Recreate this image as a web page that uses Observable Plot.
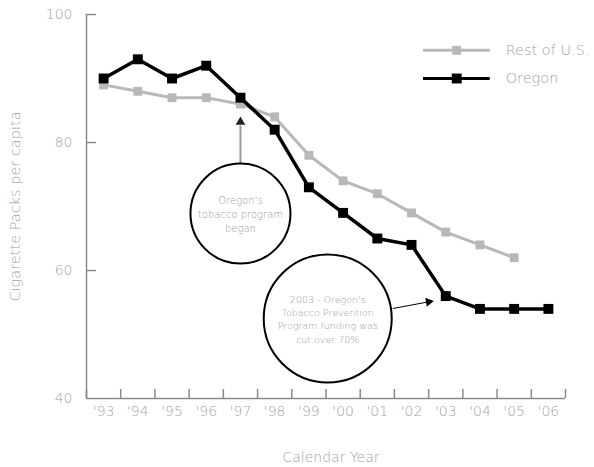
<!DOCTYPE html>
<html><head><meta charset="utf-8">
<script src="https://cdn.jsdelivr.net/npm/d3@7"></script>
<script src="https://cdn.jsdelivr.net/npm/@observablehq/plot@0.6"></script>
<style>body{margin:0;background:#fff}</style>
</head><body><div id="chart"></div>
<script>
const years = [1993,1994,1995,1996,1997,1998,1999,2000,2001,2002,2003,2004,2005,2006];
const yearLabels = ["'93","'94","'95","'96","'97","'98","'99","'00","'01","'02","'03","'04","'05","'06"];
const oregonValues = [90,93,90,92,87,82,73,69,65,64,56,54,54,54];
const restYears = [1993,1994,1995,1996,1997,1998,1999,2000,2001,2002,2003,2004,2005];
const restValues = [89,88,87,87,86,84,78,74,72,69,66,64,62];
const yTicks = [40,60,80,100];
const seriesNames = ["Rest of U.S.", "Oregon"];
const note1 = "Oregon's\ntobacco program\nbegan";
const note2 = "2003 - Oregon's\nTobacco Prevention\nProgram funding was\ncut over 70%";

const oregon = years.map((x,i)=>({x, y: oregonValues[i]}));
const rest = restYears.map((x,i)=>({x, y: restValues[i]}));
const edges = years.map(d=>d-0.5).concat([years[years.length-1]+0.5]);
const x0 = edges[0], x1 = edges[edges.length-1];

const axisColor = "#8a8a8a", textColor = "#a3a3a3", gray = "#b8b8b8";
const font = "'DejaVu Sans', sans-serif";

// annotation anchors (data coords)
const c1 = {x: 1997, y: 68.9};
const c2 = {x: 1999.55, y: 52.5};
const legendY = [94.4, 90.0];
const legX1 = 2002.35, legX2 = 2004.3, legXm = 2003.32, legXt = 2004.75;

const chart = Plot.plot({
  width: 594, height: 467,
  marginLeft: 86, marginRight: 29, marginTop: 14, marginBottom: 69,
  style: {fontFamily: font, background: "#fff", fontWeight: 300},
  x: {domain: [x0, x1]},
  y: {domain: [40, 100]},
  marks: [
    Plot.ruleY([40], {x1: x0, x2: x1, stroke: axisColor, strokeWidth: 1.5}),
    Plot.ruleX([x0], {y1: 40, y2: 100, stroke: axisColor, strokeWidth: 1.5}),
    Plot.ruleX(edges, {x: d=>d, y1: 40, y2: 40, insetTop: -9, stroke: axisColor, strokeWidth: 1.5}),
    Plot.ruleY(yTicks.filter(d=>d>40), {y: d=>d, x1: x0, x2: x0, insetRight: -10, stroke: axisColor, strokeWidth: 1.5}),
    Plot.axisY({ticks: yTicks, tickSize: 0, tickPadding: 14, label: null, fill: textColor, fontSize: 14}),
    Plot.axisX({ticks: years, tickFormat: d => yearLabels[years.indexOf(d)], tickSize: 0, tickPadding: 8, label: null, fill: textColor, fontSize: 14}),
    Plot.text(["Cigarette Packs per capita"], {text: d=>d, frameAnchor: "left", textAnchor: "middle", dx: -71, rotate: -90, fill: textColor, fontSize: 14.5}),
    Plot.text(["Calendar Year"], {text: d=>d, frameAnchor: "bottom", dy: 63, dx: 5, fill: textColor, fontSize: 14}),
    // series
    Plot.line(rest, {x: "x", y: "y", stroke: gray, strokeWidth: 3}),
    Plot.dot(rest, {x: "x", y: "y", symbol: "square", r: 5, fill: gray}),
    Plot.line(oregon, {x: "x", y: "y", stroke: "#000", strokeWidth: 3.5}),
    Plot.dot(oregon, {x: "x", y: "y", symbol: "square", r: 5.6, fill: "#000"}),
    // legend
    Plot.ruleY([legendY[0]], {x1: legX1, x2: legX2, stroke: gray, strokeWidth: 3}),
    Plot.dot([legendY[0]], {x: legXm, y: d=>d, symbol: "square", r: 5, fill: gray}),
    Plot.ruleY([legendY[1]], {x1: legX1, x2: legX2, stroke: "#000", strokeWidth: 3}),
    Plot.dot([legendY[1]], {x: legXm, y: d=>d, symbol: "square", r: 5.6, fill: "#000"}),
    Plot.text(seriesNames, {x: legXt, y: (d,i)=>legendY[i], text: d=>d, textAnchor: "start", fill: textColor, fontSize: 14.5}),
    // annotations
    Plot.ruleX([c1], {x: "x", y1: 76.7, y2: 82.6, stroke: "#999", strokeWidth: 2}),
    Plot.dot([c1], {x: "x", y: 83.2, symbol: "triangle", r: 3.6, fill: "#222"}),
    Plot.dot([c1], {x: "x", y: "y", r: 50, fill: "#fff", stroke: "#000", strokeWidth: 2}),
    Plot.text([c1], {x: "x", y: "y", text: () => note1, fill: "#9a9a9a", fontSize: 10, lineHeight: 1.4}),
    Plot.dot([c2], {x: "x", y: "y", r: 64, fill: "#fff", stroke: "#000", strokeWidth: 2}),
    Plot.text([c2], {x: "x", y: "y", text: () => note2, fill: "#9a9a9a", fontSize: 9.5, lineHeight: 1.4}),
    Plot.link([0], {x1: 2001.45, y1: 54.06, x2: 2002.45, y2: 55.05, stroke: "#000", strokeWidth: 1}),
    Plot.dot([0], {x: 2002.5, y: 55.1, symbol: "triangle", r: 3.4, fill: "#000", rotate: 80})
  ]
});
document.getElementById("chart").appendChild(chart);
</script>
</body></html>
